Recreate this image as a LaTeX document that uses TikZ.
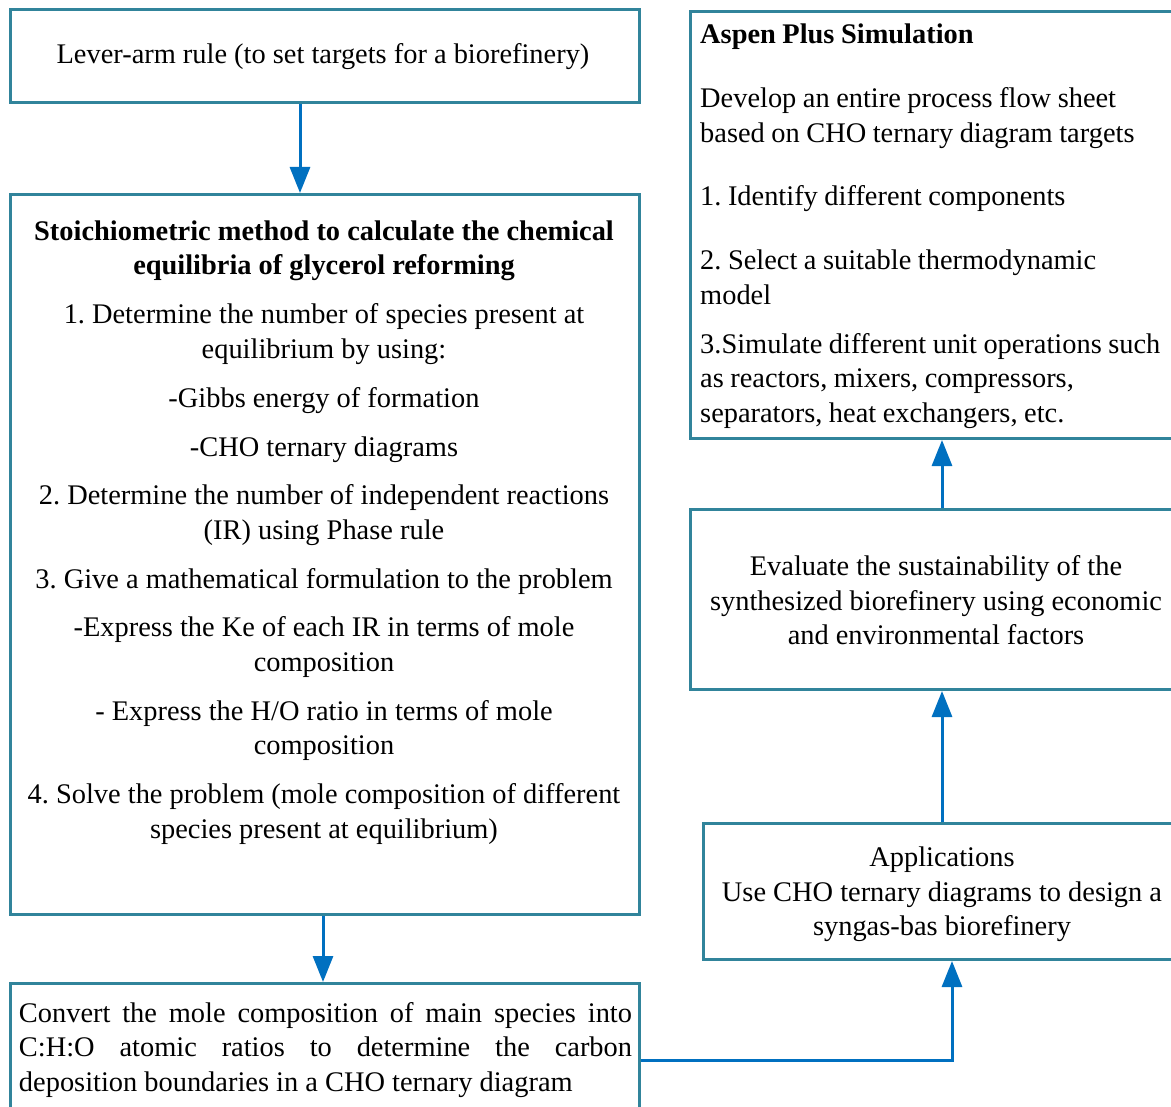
\documentclass[tikz,border=0pt]{standalone}
\usepackage{fontspec}
\setmainfont{Liberation Serif}
\usetikzlibrary{arrows.meta}
\definecolor{bord}{RGB}{49,132,155}
\definecolor{arrc}{RGB}{0,112,192}
\newcommand\mytightspace{\spaceskip=0.23em plus 0.1em minus 0.05em\relax}
\begin{document}
\frenchspacing
\begin{tikzpicture}[x=1pt,y=-1pt,
  box/.style={draw=bord,line width=3pt,inner sep=0pt,anchor=north west},
  arr/.style={draw=arrc,line width=3pt,-{Triangle[width=20pt,length=26pt]}},
  txt/.style={font=\fontsize{28.4}{34.5}\selectfont\frenchspacing,inner sep=0pt,align=center}]
\useasboundingbox (0,0) rectangle (1171,1107);
\clip (0,0) rectangle (1171,1107);
% boxes
\node[box,minimum width=629pt,minimum height=93pt] (b1) at (9,8) {};
\node[box,minimum width=629pt,minimum height=720pt] (b2) at (9,193) {};
\node[box,minimum width=629pt,minimum height=154pt] (b3) at (9,982) {};
\node[box,minimum width=500pt,minimum height=427pt] (b4) at (689,10) {};
\node[box,minimum width=500pt,minimum height=180pt] (b5) at (689,508) {};
\node[box,minimum width=490pt,minimum height=136pt] (b6) at (702,822) {};
% texts
\node[txt] (t1) at (323,56.5) {Lever-arm rule (to set targets for a biorefinery)};
\node[txt] (t2) at (324,532.5) {\textbf{Stoichiometric method to calculate the chemical}\\ \textbf{equilibria of glycerol reforming}\\[14.5pt]
1. Determine the number of species present at\\ equilibrium by using:\\[14.5pt]
-Gibbs energy of formation\\[14.5pt]
-CHO ternary diagrams\\[14pt]
2. Determine the number of independent reactions\\ (IR) using Phase rule\\[14.5pt]
3. Give a mathematical formulation to the problem\\[14pt]
-Express the Ke of each IR in terms of mole\\ composition\\[14.5pt]
- Express the H/O ratio in terms of mole\\ composition\\[14.5pt]
4. Solve the problem (mole composition of different\\ species present at equilibrium)};
\node[txt,text width=613pt,align=justify] (t3) at (325.5,1050) {Convert the mole composition of main species into\linebreak C:H:O atomic ratios to determine the carbon\linebreak deposition boundaries in a CHO ternary diagram};
\node[txt,text width=490pt,align=left,anchor=west] (t4) at (700,226) {\mytightspace\textbf{Aspen Plus Simulation}\\[29.5pt]
Develop an entire process flow sheet\\ based on CHO ternary diagram targets\\[29pt]
1. Identify different components\\[29.5pt]
2. Select a suitable thermodynamic\\ model\\[14.5pt]
3.Simulate different unit operations such\\ as reactors, mixers, compressors,\\ separators, heat exchangers, etc.};
\node[txt] (t5) at (936,600.5) {Evaluate the sustainability of the\\ synthesized biorefinery using economic\\ and environmental factors};
\node[txt] (t6) at (942,894.5) {Applications\\ Use CHO ternary diagrams to design a\\ syngas-bas biorefinery};
% connectors
\coordinate (xa) at (300,0);
\coordinate (xb) at (323,0);
\coordinate (xc) at (952,0);
\coordinate (xd) at (942,0);
\draw[arr] (b1.south -| xa) -- (b2.north -| xa);
\draw[arr] (b2.south -| xb) -- (b3.north -| xb);
\draw[arr] (b3.east) -| (b6.south -| xc);
\draw[arr] (b6.north -| xd) -- (b5.south -| xd);
\draw[arr] (b5.north -| xd) -- (b4.south -| xd);
\end{tikzpicture}
\end{document}
